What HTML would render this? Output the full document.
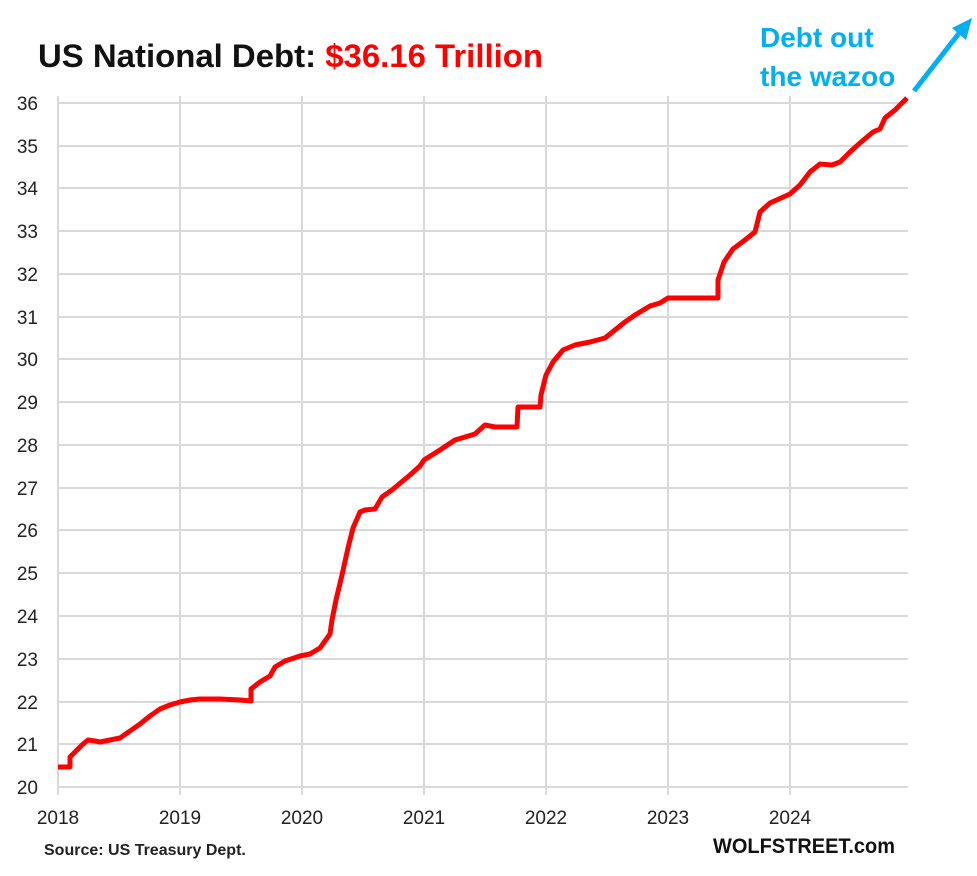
<!DOCTYPE html><html><head><style>body{margin:0;background:#fff}svg text{font-family:"Liberation Sans",Arial,sans-serif}</style></head><body>
<svg width="977" height="871" viewBox="0 0 977 871" xmlns="http://www.w3.org/2000/svg">
<rect width="977" height="871" fill="#fff"/>
<g stroke="#d9d9d9" stroke-width="2">
<line x1="58" y1="103" x2="908" y2="103"/><line x1="58" y1="146" x2="908" y2="146"/><line x1="58" y1="188" x2="908" y2="188"/><line x1="58" y1="231" x2="908" y2="231"/><line x1="58" y1="274" x2="908" y2="274"/><line x1="58" y1="317" x2="908" y2="317"/><line x1="58" y1="359" x2="908" y2="359"/><line x1="58" y1="402" x2="908" y2="402"/><line x1="58" y1="445" x2="908" y2="445"/><line x1="58" y1="488" x2="908" y2="488"/><line x1="58" y1="530" x2="908" y2="530"/><line x1="58" y1="573" x2="908" y2="573"/><line x1="58" y1="616" x2="908" y2="616"/><line x1="58" y1="659" x2="908" y2="659"/><line x1="58" y1="702" x2="908" y2="702"/><line x1="58" y1="744" x2="908" y2="744"/><line x1="58" y1="787" x2="908" y2="787"/>
<line x1="58" y1="96" x2="58" y2="795"/><line x1="180" y1="96" x2="180" y2="795"/><line x1="302" y1="96" x2="302" y2="795"/><line x1="424" y1="96" x2="424" y2="795"/><line x1="546" y1="96" x2="546" y2="795"/><line x1="668" y1="96" x2="668" y2="795"/><line x1="790" y1="96" x2="790" y2="795"/>
</g>
<g font-size="19" fill="#222" text-anchor="end">
<text x="38" y="110">36</text><text x="38" y="153">35</text><text x="38" y="195">34</text><text x="38" y="238">33</text><text x="38" y="281">32</text><text x="38" y="324">31</text><text x="38" y="366">30</text><text x="38" y="409">29</text><text x="38" y="452">28</text><text x="38" y="495">27</text><text x="38" y="537">26</text><text x="38" y="580">25</text><text x="38" y="623">24</text><text x="38" y="666">23</text><text x="38" y="709">22</text><text x="38" y="751">21</text><text x="38" y="794">20</text>
</g>
<g font-size="19" fill="#222" text-anchor="middle">
<text x="58" y="824">2018</text><text x="180" y="824">2019</text><text x="302" y="824">2020</text><text x="424" y="824">2021</text><text x="546" y="824">2022</text><text x="668" y="824">2023</text><text x="790" y="824">2024</text>
</g>
<polyline fill="none" stroke="#ff0000" stroke-width="5" stroke-linejoin="round" points="58,767 70,767 70,757 75,752 82,745 88,740 95,741 100,742 110,740 120,738 130,731 140,724 150,716 160,709 170,705 180,702 190,700 200,699 220,699 240,700 251,701 251,689 260,682 270,676 275,667 285,661 300,656 310,654 320,648 330,634 332,620 336,600 342,575 348,548 353,528 360,512 365,510 375,509 382,497 392,490 398,485 410,475 420,466 424,460 440,450 455,440 475,434 485,425 495,427 517,427 518,407 540,407 541,395 546,375 553,362 563,350 575,345 590,342 605,338 615,330 625,322 635,315 650,306 660,303 668,298 718,298 718,280 724,262 733,249 745,240 755,232 760,212 770,203 790,194 800,185 810,172 820,164 832,165 840,162 850,152 860,143 873,132 880,129 885,118 895,110 907,98"/>
<line x1="914" y1="91" x2="960" y2="32" stroke="#00b0f0" stroke-width="5"/>
<polygon points="972,18 952,28 966,40" fill="#00b0f0"/>
<text x="38" y="67" font-size="32" font-weight="bold" fill="#111" textLength="505" lengthAdjust="spacingAndGlyphs">US National Debt: <tspan fill="#ff0000">$36.16 Trillion</tspan></text>
<text x="760" y="47" font-size="28" font-weight="bold" fill="#00b0f0">Debt out</text>
<text x="760" y="86" font-size="28" font-weight="bold" fill="#00b0f0">the wazoo</text>
<text x="44" y="855" font-size="16" font-weight="bold" fill="#222">Source: US Treasury Dept.</text>
<text x="895" y="853" font-size="21" font-weight="bold" fill="#111" text-anchor="end" textLength="182" lengthAdjust="spacingAndGlyphs">WOLFSTREET.com</text>
</svg></body></html>
